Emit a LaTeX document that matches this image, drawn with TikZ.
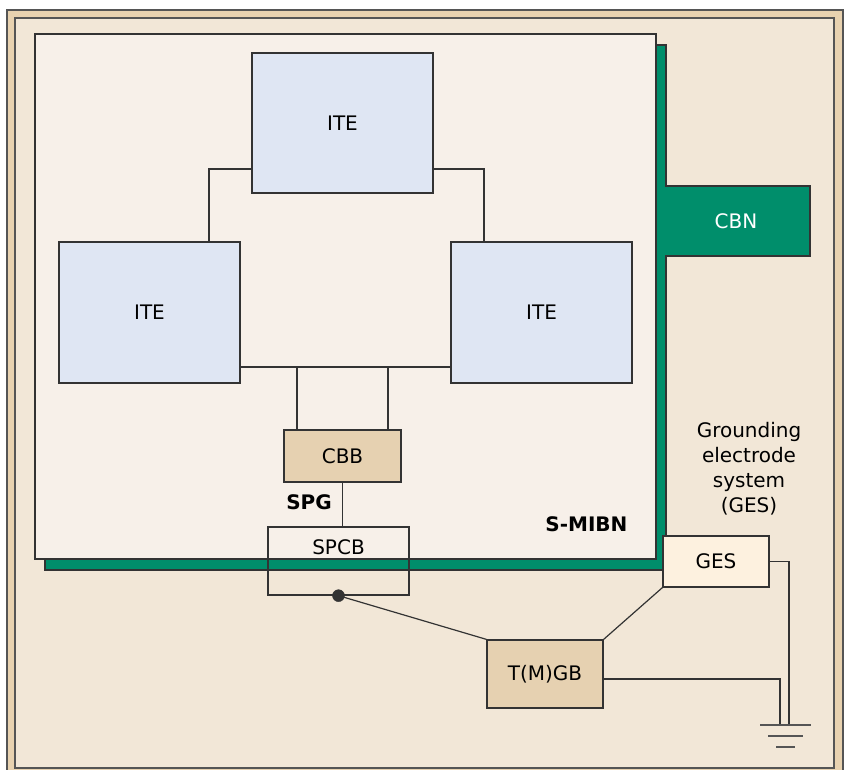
\documentclass[tikz,border=0pt]{standalone}
\usepackage{fontspec}
\setmainfont{DejaVu Sans}
\usepackage{xcolor}
\usepackage{tikz}

\definecolor{frametan}{HTML}{E8D2B0}
\definecolor{roomfill}{HTML}{F2E7D7}
\definecolor{mibnfill}{HTML}{F7F0E9}
\definecolor{itefill}{HTML}{DFE6F3}
\definecolor{tanfill}{HTML}{E6D1B1}
\definecolor{gesfill}{HTML}{FDF1DF}
\definecolor{cbngreen}{HTML}{008E6B}
\definecolor{linegray}{HTML}{333333}
\definecolor{framegray}{HTML}{555555}

\tikzset{
  box/.style={draw=linegray, line width=1.3pt, inner sep=0pt},
  itebox/.style={box, fill=itefill, minimum width=181pt, minimum height=141pt},
  tanbox/.style={box, fill=tanfill},
  wire/.style={draw=linegray, line width=1.2pt},
  gndline/.style={draw=framegray, line width=1.8pt},
}

\begin{document}
\begin{tikzpicture}[x=1pt,y=-1pt,font=\fontsize{20}{25}\selectfont]
\useasboundingbox (0,0) rectangle (845,770);
\clip (0,0) rectangle (845,770);
\draw[framegray, line width=1.5pt, fill=frametan] (7,10) rectangle (843,790);
\draw[framegray, line width=1.5pt, fill=roomfill] (15,18) rectangle (834,768);
\draw[linegray, line width=1.3pt, fill=cbngreen] (45,45) -- (666,45) -- (666,186) -- (810,186) -- (810,256) -- (666,256) -- (666,570) -- (45,570) -- cycle;
\node[text=white] (cbn) at (736,221) {CBN};
\draw[linegray, line width=1.3pt, fill=mibnfill] (35,34) rectangle (656,559);
\node[font=\fontsize{20}{25}\selectfont\bfseries, anchor=east] (mibn) at (631,524) {S-MIBN};

\node[itebox, minimum height=140pt] (iteT) at (342.5,123) {ITE};
\node[itebox] (iteL) at (149.5,312.5) {ITE};
\node[itebox] (iteR) at (541.5,312.5) {ITE};
\node[tanbox, minimum width=117pt, minimum height=52pt] (cbb) at (342.5,456) {CBB};
\node[box, minimum width=141pt, minimum height=68pt] (spcb) at (338.5,561) {};
\node (spcblabel) at ([yshift=-21pt]spcb.north) {SPCB};
\node[font=\fontsize{20}{25}\selectfont\bfseries] (spg) at (309,502) {SPG};
\node[tanbox, minimum width=116pt, minimum height=68pt] (tmgb) at (545,674) {T(M)GB};
\node[box, fill=gesfill, minimum width=106pt, minimum height=51pt] (ges) at (716,561.5) {GES};
\node[align=center] (gestext) at (749,468.5) {Grounding\\electrode\\system\\(GES)};

\coordinate (bus) at ([yshift=-54.5pt]iteL.east);
\coordinate (gndA) at (780,725);
\coordinate (gndB) at (789,725);
\coordinate (gnd) at (785.5,725);

\draw[wire] ([yshift=-46pt]iteT.west) -| ([xshift=59.5pt]iteL.north);
\draw[wire] ([yshift=-46pt]iteT.east) -| ([xshift=-57.5pt]iteR.north);
\draw[wire] (bus) -- (bus -| iteR.west);
\draw[wire] ([xshift=-45.5pt]cbb.north) -- ([xshift=-45.5pt]cbb.north |- bus);
\draw[wire] ([xshift=45.5pt]cbb.north) -- ([xshift=45.5pt]cbb.north |- bus);
\draw[wire] (cbb.south) -- (cbb.south |- spcb.north);
\filldraw[linegray] (spcb.south) circle (6pt);
\draw[wire] (spcb.south) -- (tmgb.north west);
\draw[wire] (ges.south west) -- (tmgb.north east);
\draw[wire] (ges.east) -| (gndB);
\draw[wire] ([yshift=-5pt]tmgb.east) -| (gndA);
\draw[gndline] ([xshift=-25.5pt]gnd) -- ([xshift=25.5pt]gnd);
\draw[gndline] ([xshift=-17.5pt,yshift=-11pt]gnd) -- ([xshift=17.5pt,yshift=-11pt]gnd);
\draw[gndline] ([xshift=-9.5pt,yshift=-22pt]gnd) -- ([xshift=9.5pt,yshift=-22pt]gnd);
\end{tikzpicture}
\end{document}
